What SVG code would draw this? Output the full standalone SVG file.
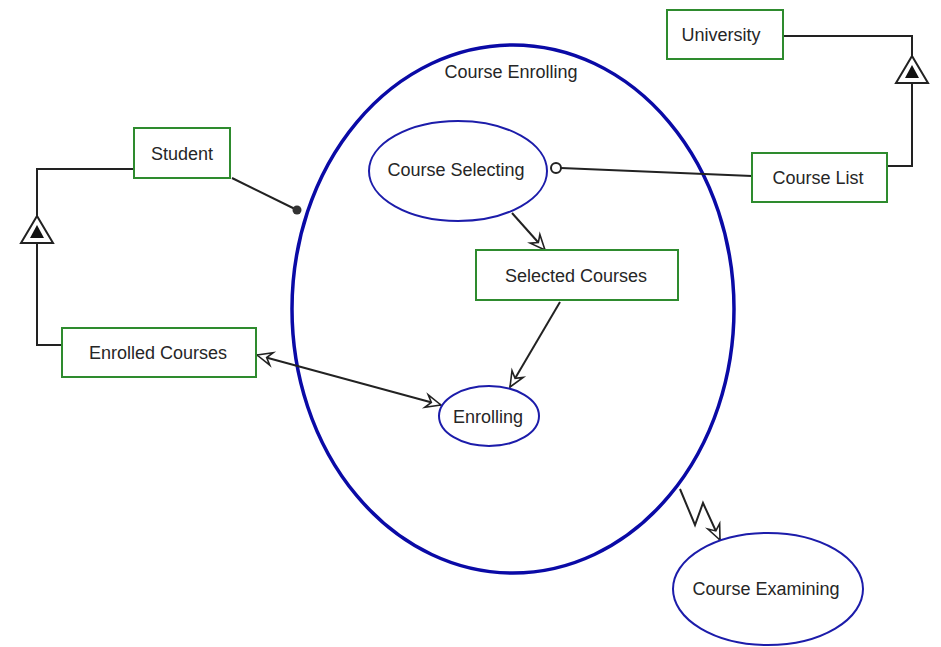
<svg xmlns="http://www.w3.org/2000/svg" width="941" height="647" viewBox="0 0 941 647">
  <style>
    .box { fill: #ffffff; stroke: #2e8b2e; stroke-width: 2; }
    .proc { fill: #ffffff; stroke: #1c1caa; stroke-width: 2; }
    .big { fill: none; stroke: #0a0aa6; stroke-width: 3.5; }
    .lbl { font-family: "Liberation Sans", Arial, sans-serif; font-size: 18px; fill: #262626; text-anchor: middle; dominant-baseline: central; }
    .ln { fill: none; stroke: #222222; stroke-width: 2; }
  </style>
  <defs>
    <!-- hollow open arrowhead, tip at origin -->
    <marker id="open" viewBox="-17 -9 19 18" refX="0" refY="0" markerWidth="19" markerHeight="18" markerUnits="userSpaceOnUse" orient="auto-start-reverse" overflow="visible">
      <path d="M0,0 L-15,-6.5 L-10,0 L-15,6.5 Z" fill="#ffffff" stroke="#222222" stroke-width="1.6" stroke-linejoin="miter"/>
    </marker>
  </defs>

  <rect width="941" height="647" fill="#ffffff"/>

  <!-- container process -->
  <g id="course-enrolling">
    <ellipse class="big" cx="513" cy="309" rx="221" ry="264"/>
    <text class="lbl" x="511" y="72">Course Enrolling</text>
  </g>

  <!-- connectors -->
  <g id="connectors">
    <!-- Student / Enrolled Courses specialization -->
    <polyline class="ln" points="133,169 37,169 37,217"/>
    <polyline class="ln" points="37,243 37,345 62,345"/>
    <polygon points="37,216 21,243 53,243" fill="#ffffff" stroke="#222222" stroke-width="2"/>
    <polygon points="37,225 30,238 44,238" fill="#111111"/>

    <!-- University / Course List specialization -->
    <polyline class="ln" points="783,36 912,36 912,57"/>
    <polyline class="ln" points="912,83 912,166 887,166"/>
    <polygon points="912,56 896,83 928,83" fill="#ffffff" stroke="#222222" stroke-width="2"/>
    <polygon points="912,65 905,78 919,78" fill="#111111"/>

    <!-- Student agent link -->
    <line class="ln" x1="232" y1="178" x2="297" y2="210"/>
    <circle cx="297" cy="210" r="4.5" fill="#333333"/>

    <!-- Course List instrument link -->
    <line class="ln" x1="561" y1="168" x2="752" y2="176"/>
    <circle cx="556" cy="168" r="5" fill="#ffffff" stroke="#222222" stroke-width="2"/>

    <!-- result / consumption links -->
    <line class="ln" x1="512" y1="213" x2="545" y2="250" marker-end="url(#open)"/>
    <line class="ln" x1="560" y1="302" x2="510" y2="387" marker-end="url(#open)"/>
    <line class="ln" x1="257" y1="355" x2="441" y2="405" marker-start="url(#open)" marker-end="url(#open)"/>

    <!-- invocation link -->
    <polyline class="ln" points="680,489 695,525 703,503 720,540" stroke-linejoin="miter" marker-end="url(#open)"/>
  </g>

  <g id="student">
    <rect class="box" x="134" y="128" width="96" height="50"/>
    <text class="lbl" x="182" y="154">Student</text>
  </g>

  <g id="enrolled-courses">
    <rect class="box" x="62" y="328" width="194" height="49"/>
    <text class="lbl" x="158" y="353">Enrolled Courses</text>
  </g>

  <g id="university">
    <rect class="box" x="667" y="10" width="116" height="49"/>
    <text class="lbl" x="721" y="35">University</text>
  </g>

  <g id="course-list">
    <rect class="box" x="752" y="153" width="135" height="49"/>
    <text class="lbl" x="818" y="178">Course List</text>
  </g>

  <g id="course-selecting">
    <ellipse class="proc" cx="458" cy="171" rx="89" ry="50"/>
    <text class="lbl" x="456" y="170">Course Selecting</text>
  </g>

  <g id="selected-courses">
    <rect class="box" x="476" y="250" width="202" height="50"/>
    <text class="lbl" x="576" y="276">Selected Courses</text>
  </g>

  <g id="enrolling">
    <ellipse class="proc" cx="489" cy="416" rx="50" ry="30"/>
    <text class="lbl" x="488" y="417">Enrolling</text>
  </g>

  <g id="course-examining">
    <ellipse class="proc" cx="768" cy="589" rx="95" ry="56"/>
    <text class="lbl" x="766" y="589">Course Examining</text>
  </g>
</svg>
